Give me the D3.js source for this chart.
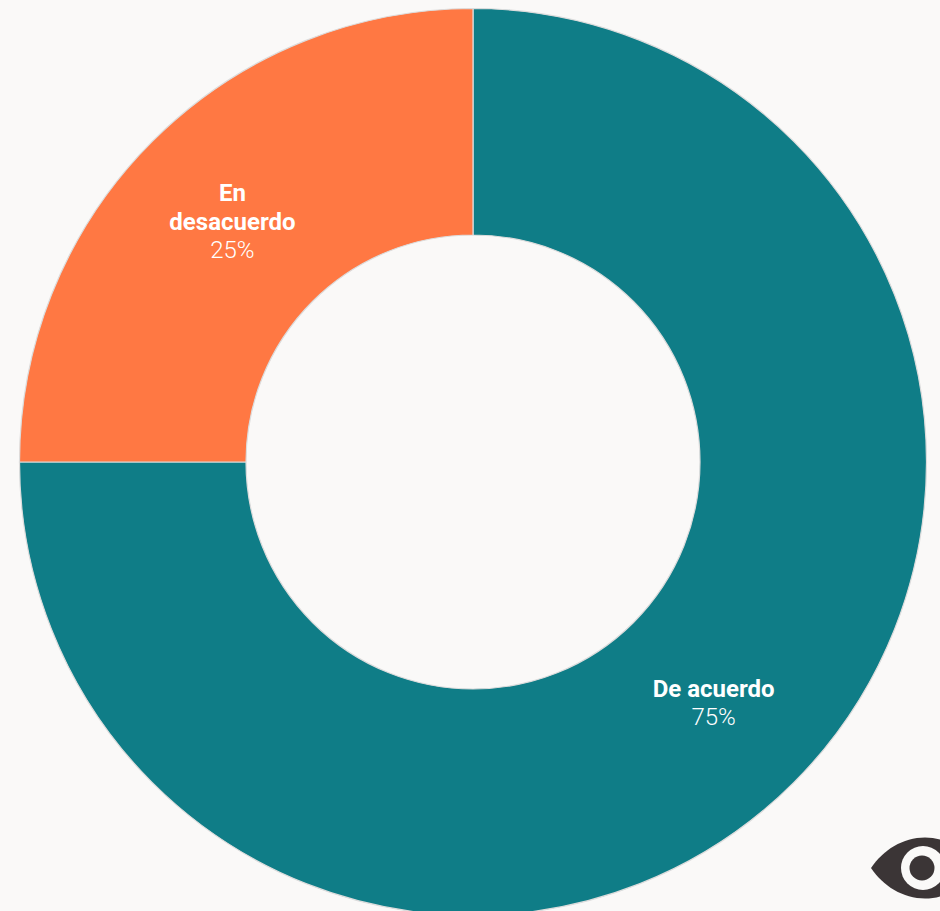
<!DOCTYPE html>
<html><head><meta charset="utf-8">
<script src="https://cdn.jsdelivr.net/npm/d3@7"></script>
<style>html,body{margin:0;padding:0;background:#faf9f8;overflow:hidden}svg{display:block}
text{font-family:Roboto,sans-serif;fill:#fff;text-anchor:middle;font-size:24px}</style></head>
<body><svg id="c" width="940" height="911"></svg>
<script>
const categories = ["De acuerdo", "En desacuerdo"];
const values = [75, 25];
const colors = ["#0f7d87", "#ff7843"];
const labelLines = [["De acuerdo"], ["En", "desacuerdo"]];
const svg = d3.select("#c");
const cx = 473, cy = 462, outer = 453.5, inner = 227;
const color = d3.scaleOrdinal(categories, colors);
const pie = d3.pie().sort(null)(values);
const arc = d3.arc().innerRadius(inner).outerRadius(outer);
const g = svg.append("g").attr("transform", `translate(${cx},${cy})`);
g.selectAll("path").data(pie).join("path").attr("d", arc)
  .attr("fill", (d, i) => color(categories[i]))
  .attr("stroke", "#dcdcdc").attr("stroke-width", 1.2);
const lh = 28.5;
pie.forEach((d, i) => {
  const [x, y] = arc.centroid(d);
  const lines = labelLines[i];
  const total = lines.length + 1;
  const top = y - (total - 1) * lh / 2;
  const t = g.append("text");
  lines.forEach((l, k) => t.append("tspan").attr("x", x).attr("y", top + k * lh + 8.4).attr("font-weight", 700).text(l));
  t.append("tspan").attr("x", x).attr("y", top + lines.length * lh + 8.4).attr("font-weight", 300).text(values[i] + "%");
});
// logo
const eye = svg.append("g").attr("transform", "translate(923,868)");
eye.append("path").attr("fill", "#3b3536")
  .attr("d", "M-52,0C-40,-18 -20,-30.5 2,-30.5C24,-30.5 40,-18 52,0C40,18 24,30.5 2,30.5C-20,30.5 -40,18 -52,0Z");
eye.append("circle").attr("r", 22).attr("fill", "#faf9f8");
eye.append("circle").attr("cx", -1).attr("r", 12.5).attr("fill", "#3b3536");
</script></body></html>
